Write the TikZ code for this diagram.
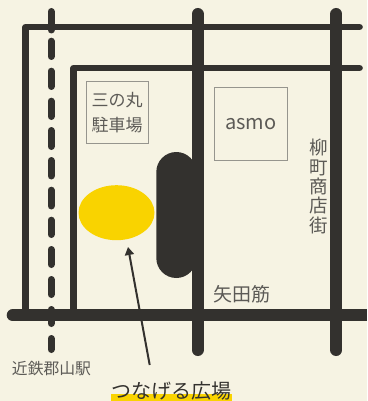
\documentclass[tikz,border=0pt]{standalone}
\usepackage{fontspec}
\newfontfamily\cjk{Noto Sans CJK JP}
\usetikzlibrary{arrows.meta}
\definecolor{roadc}{HTML}{33312E}
\definecolor{paper}{HTML}{F6F3E3}
\definecolor{sun}{HTML}{F9D300}
\definecolor{lbl}{HTML}{5C5A56}
\definecolor{frameg}{HTML}{96958E}
\tikzset{
  thinroad/.style={draw=roadc,line width=6.7pt,line join=round,line cap=round},
  wideroad/.style={draw=roadc,line width=12pt,line cap=round},
  railseg/.style={draw=roadc,line width=7pt,line cap=round},
  lab/.style={text=lbl,inner sep=0pt},
  shop/.style={draw=frameg,line width=1pt,inner sep=0pt,anchor=north west},
}
\begin{document}
\begin{tikzpicture}[x=1pt,y=-1pt]
\useasboundingbox (0,0) rectangle (367,401);
\fill[paper] (0,0) rectangle (367,401);
% thin roads
\draw[thinroad] (25.7,312) -- (25.7,27) -- (359.5,27);
\draw[thinroad] (73.7,312) -- (73.7,68) -- (359.5,68);
% railway
\foreach \a/\b in {11.5/30,41.2/56.5,71.2/86.5,101.2/116.5,130.5/146.5,160.5/176,190.2/206,220.2/234.5,249.5/264.5,279.5/294.5,309.5/323.5,338.5/349.5}
  \draw[railseg] (51,\a) -- (51,\b);
% wide roads
\draw[wideroad] (197.7,14) -- (197.7,350);
\draw[wideroad] (336.3,14) -- (336.3,350);
\draw[wideroad] (12.7,315.3) -- (350,315.3);
\draw[draw=roadc,line width=12pt] (350,315.3) -- (367,315.3);
% plaza block
\fill[roadc,rounded corners=20pt] (156.3,152) rectangle (196.3,278);
\fill[sun] (116.5,212.7) ellipse[x radius=38,y radius=27.5];
% labels
\node[shop,minimum width=61.4pt,minimum height=61.4pt] (parking) at (86.3,81.3) {};
\node[lab,font=\cjk\fontsize{17}{17}\selectfont] (pa) at (117,100) {三の丸};
\node[lab,font=\cjk\fontsize{17}{17}\selectfont] (pb) at (117,125) {駐車場};
\node[shop,minimum width=73.3pt,minimum height=73pt] (asmo) at (214,87.3) {};
\node[lab,font=\cjk\fontsize{20}{20}\selectfont] (asmot) at (250.7,124.5) {asmo};
\node[lab,font=\cjk\fontsize{18.5}{19.3}\selectfont,align=center,text width=19pt] (yanagi) at (319,186.5) {柳\\町\\商\\店\\街};
\node[lab,font=\cjk\fontsize{19}{19}\selectfont] (yata) at (241.5,294) {矢田筋};
\node[lab,font=\cjk\fontsize{15.8}{16}\selectfont] (station) at (51.5,369) {近鉄郡山駅};
\fill[sun] (111,394) rectangle (232,401);
\node[inner sep=0pt,text=roadc,font=\cjk\fontsize{20}{20}\selectfont] (plaza) at (171.5,391) {つなげる広場};
% arrow
\coordinate (from) at (149.7,365);
\coordinate (to) at (128,247);
\draw[draw=roadc,line width=2pt,-{Triangle[length=8pt,width=9pt]}] (from) -- (to);
\end{tikzpicture}
\end{document}
